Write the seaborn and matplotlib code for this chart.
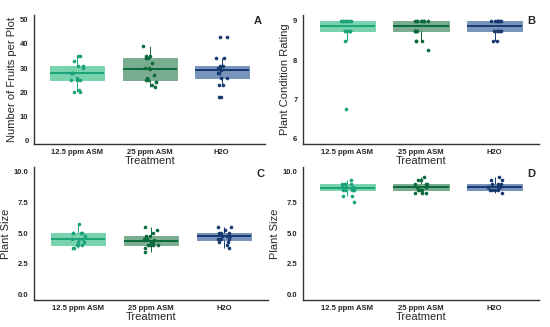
import numpy as np
import pandas as pd
import seaborn as sns
import matplotlib.pyplot as plt

np.random.seed(3)

treatments = ['12.5 ppm ASM', '25 ppm ASM', 'H2O']
line_colors = ['#1aa37a', '#0c6a3c', '#173a70']
fill_colors = ['#78d2ae', '#7aad8f', '#7894ba']

# Panel A - number of fruits per plot
fruits_125 = [35, 35, 33, 31, 31, 30, 28, 28, 28, 26, 25, 25, 25, 20, 20, 21]
fruits_25 = [39, 35, 35, 34, 34, 32, 30, 30, 29.5, 27, 26, 25, 25, 24, 24, 23, 22]
fruits_h2o = [43, 43, 34, 34, 31, 31, 30, 29.5, 29, 28, 28, 26, 26, 23, 23, 18, 18]

# Panel B - plant condition rating
cond_125 = [9, 9, 9, 9, 9, 9, 9, 9, 8.75, 8.75, 8.75, 8.75, 8.75, 8.75, 8.5, 6.75]
cond_25 = [9, 9, 9, 9, 9, 9, 9, 9, 9, 8.75, 8.75, 8.75, 8.75, 8.75, 8.5, 8.5, 8.5, 8.25]
cond_h2o = [9, 9, 9, 9, 9, 9, 9, 8.75, 8.75, 8.75, 8.75, 8.75, 8.5, 8.5]

# Panel C - plant size
size_c_125 = [5.75, 5, 5, 5, 5, 4.75, 4.5, 4.5, 4.5, 4.25, 4.25, 4, 4, 4, 3.75, 3.75]
size_c_25 = [5.5, 5.25, 5, 4.75, 4.75, 4.5, 4.5, 4.4, 4.25, 4.25, 4, 4, 4, 4, 3.75, 3.5]
size_c_h2o = [5.5, 5.5, 5.25, 5, 5, 5, 4.75, 4.75, 4.75, 4.5, 4.5, 4.5, 4.25, 4.25, 4, 3.75]

# Panel D - plant size
size_d_125 = [9.25, 9, 9, 9, 9, 8.75, 8.75, 8.75, 8.5, 8.5, 8.5, 8.5, 8.5, 8, 8, 7.5]
size_d_25 = [9.5, 9.25, 9.25, 9, 9, 9, 8.75, 8.75, 8.75, 8.75, 8.5, 8.5, 8.5, 8.25, 8.25, 8.25]
size_d_h2o = [9.5, 9.25, 9.25, 9, 9, 9, 8.75, 8.75, 8.75, 8.75, 8.5, 8.5, 8.5, 8.5, 8.25]

panels = [
    ('A', 'Number of Fruits per Plot', [fruits_125, fruits_25, fruits_h2o], (-1.5, 52), [0, 10, 20, 30, 40, 50], '%d'),
    ('B', 'Plant Condition Rating', [cond_125, cond_25, cond_h2o], (5.87, 9.15), [6, 7, 8, 9], '%d'),
    ('C', 'Plant Size', [size_c_125, size_c_25, size_c_h2o], (-0.4, 10.3), [0, 2.5, 5, 7.5, 10], '%.1f'),
    ('D', 'Plant Size', [size_d_125, size_d_25, size_d_h2o], (-0.4, 10.3), [0, 2.5, 5, 7.5, 10], '%.1f'),
]

positions = [
    [0.062, 0.56, 0.42, 0.394],
    [0.551, 0.56, 0.429, 0.394],
    [0.062, 0.083, 0.425, 0.405],
    [0.551, 0.083, 0.429, 0.405],
]

sns.set_style('white')
plt.rcParams['font.family'] = ['Liberation Sans', 'DejaVu Sans']

fig = plt.figure(figsize=(5.5, 3.27), dpi=100)

for (letter, ylabel, series, ylim, yticks, fmt), pos in zip(panels, positions):
    ax = fig.add_axes(pos)
    df = pd.DataFrame({
        'Treatment': np.repeat(treatments, [len(s) for s in series]),
        'value': np.concatenate(series),
    })
    for t, lc, fc in zip(treatments, line_colors, fill_colors):
        sub = df[df['Treatment'] == t]
        sns.boxplot(data=sub, x='Treatment', y='value', order=treatments, ax=ax,
                    color=fc, linecolor=lc, saturation=1, width=0.75,
                    showfliers=False, showcaps=False, linewidth=0.7,
                    boxprops=dict(edgecolor=fc),
                    medianprops=dict(color=lc, linewidth=1.4),
                    whiskerprops=dict(color=lc, linewidth=0.7))
        sns.stripplot(data=sub, x='Treatment', y='value', order=treatments, ax=ax,
                      color=lc, size=2.6, jitter=0.1, linewidth=0)
    ax.set_xlim(-0.6, 2.6)
    ax.set_ylim(*ylim)
    ax.set_yticks(yticks)
    ax.set_yticklabels([fmt % v for v in yticks])
    ax.set_xlabel('Treatment', fontsize=8, labelpad=0)
    ax.set_ylabel(ylabel, fontsize=8, labelpad=2)
    ax.tick_params(axis='both', labelsize=5.5, length=2, width=0.6, pad=2, color='#333333')
    for lab in ax.get_xticklabels() + ax.get_yticklabels():
        lab.set_fontweight('bold')
    sns.despine(ax=ax)
    for sp in ['left', 'bottom']:
        ax.spines[sp].set_color('#333333')
        ax.spines[sp].set_linewidth(1.0)
    ax.text(0.985, 0.95, letter, transform=ax.transAxes, ha='right', va='center',
            fontsize=8, fontweight='bold')

fig.savefig('out.png', dpi=100)
